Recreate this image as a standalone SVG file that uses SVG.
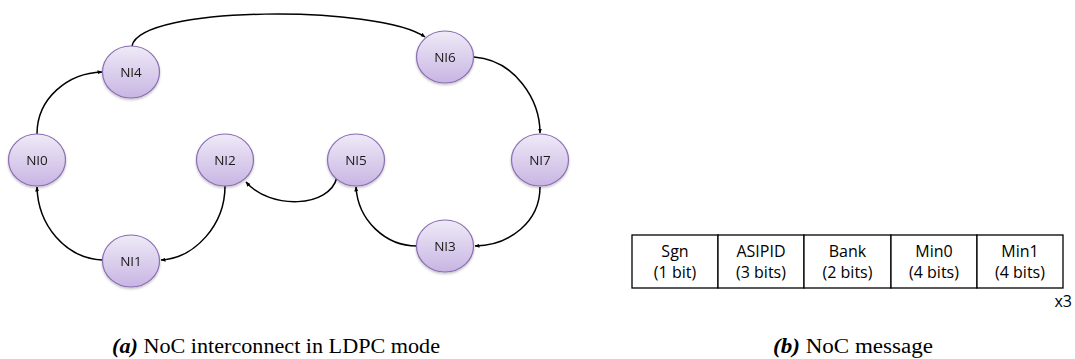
<svg xmlns="http://www.w3.org/2000/svg" width="1075" height="359" viewBox="0 0 1075 359">
<style>
.node ellipse{fill:url(#g);stroke:#8a6db3;stroke-width:1.2}
.node text{font-family:"Open Sans","Liberation Sans",sans-serif;font-size:13.5px;fill:#1a1a1a;text-anchor:middle}
.edge{fill:none;stroke:#000;stroke-width:1.5;marker-end:url(#arr)}
.cell{fill:#fff;stroke:#000;stroke-width:1.3}
.ct{font-family:"Open Sans","Liberation Sans",sans-serif;font-size:16px;fill:#000;text-anchor:middle}
.cap{font-family:"Liberation Serif","Times New Roman",serif;font-size:20px;fill:#000}
</style>
<defs>
<linearGradient id="g" x1="0" y1="0" x2="0" y2="1">
<stop offset="0" stop-color="#efeaf7"/>
<stop offset="1" stop-color="#c8b5e3"/>
</linearGradient>
<filter id="sh" x="-20%" y="-20%" width="140%" height="150%">
<feDropShadow dx="0" dy="1.5" stdDeviation="1.2" flood-color="#000" flood-opacity="0.25"/>
</filter>
<marker id="arr" viewBox="0 0 10 10" refX="9" refY="5" markerWidth="5" markerHeight="5" orient="auto" markerUnits="userSpaceOnUse">
<path d="M0,1 L10,5 L0,9 z" fill="#000"/>
</marker>
</defs>

<g id="connectors">
<path class="edge" d="M37,134 C37,98 68,73 102,72"/>
<path class="edge" d="M132,46 C140,5 380,5 425,37"/>
<path class="edge" d="M474,57 C515,60 540,100 540,133"/>
<path class="edge" d="M540,187 C540,222 510,245 475,246"/>
<path class="edge" d="M417,246 C385,246 358,220 356,187"/>
<path class="edge" d="M337,177 C330,208 270,210 246,182"/>
<path class="edge" d="M225,186 C225,225 195,258 161,260"/>
<path class="edge" d="M102,260 C65,258 38,225 37,187"/>
</g>

<g id="NI0" class="node" filter="url(#sh)"><ellipse cx="37" cy="160" rx="28.5" ry="26"/><text x="37" y="165">NI0</text></g>
<g id="NI4" class="node" filter="url(#sh)"><ellipse cx="131" cy="72" rx="28.5" ry="26"/><text x="131" y="77">NI4</text></g>
<g id="NI2" class="node" filter="url(#sh)"><ellipse cx="225" cy="160" rx="28.5" ry="26"/><text x="225" y="165">NI2</text></g>
<g id="NI6" class="node" filter="url(#sh)"><ellipse cx="445" cy="57" rx="28.5" ry="26"/><text x="445" y="62">NI6</text></g>
<g id="NI5" class="node" filter="url(#sh)"><ellipse cx="356" cy="160" rx="28.5" ry="26"/><text x="356" y="165">NI5</text></g>
<g id="NI7" class="node" filter="url(#sh)"><ellipse cx="540" cy="160" rx="28.5" ry="26"/><text x="540" y="165">NI7</text></g>
<g id="NI1" class="node" filter="url(#sh)"><ellipse cx="131" cy="261" rx="28.5" ry="26"/><text x="131" y="266">NI1</text></g>
<g id="NI3" class="node" filter="url(#sh)"><ellipse cx="445" cy="246" rx="28.5" ry="26"/><text x="445" y="251">NI3</text></g>

<g id="message">
<rect class="cell" x="632" y="235" width="86" height="53"/>
<rect class="cell" x="718" y="235" width="86" height="53"/>
<rect class="cell" x="804" y="235" width="87" height="53"/>
<rect class="cell" x="891" y="235" width="86" height="53"/>
<rect class="cell" x="977" y="235" width="86" height="53"/>
<text class="ct" x="675" y="257">Sgn</text><text class="ct" x="675" y="278">(1 bit)</text>
<text class="ct" x="761" y="257">ASIPID</text><text class="ct" x="761" y="278">(3 bits)</text>
<text class="ct" x="847.5" y="257">Bank</text><text class="ct" x="847.5" y="278">(2 bits)</text>
<text class="ct" x="934" y="257">Min0</text><text class="ct" x="934" y="278">(4 bits)</text>
<text class="ct" x="1020" y="257">Min1</text><text class="ct" x="1020" y="278">(4 bits)</text>
<text class="ct" x="1072" y="307" style="text-anchor:end">x3</text>
</g>

<g id="captions">
<text class="cap" x="112" y="353" textLength="328" lengthAdjust="spacingAndGlyphs"><tspan font-weight="bold" font-style="italic">(a)</tspan> NoC interconnect in LDPC mode</text>
<text class="cap" x="773" y="353" textLength="160" lengthAdjust="spacingAndGlyphs"><tspan font-weight="bold" font-style="italic">(b)</tspan> NoC message</text>
</g>
</svg>
